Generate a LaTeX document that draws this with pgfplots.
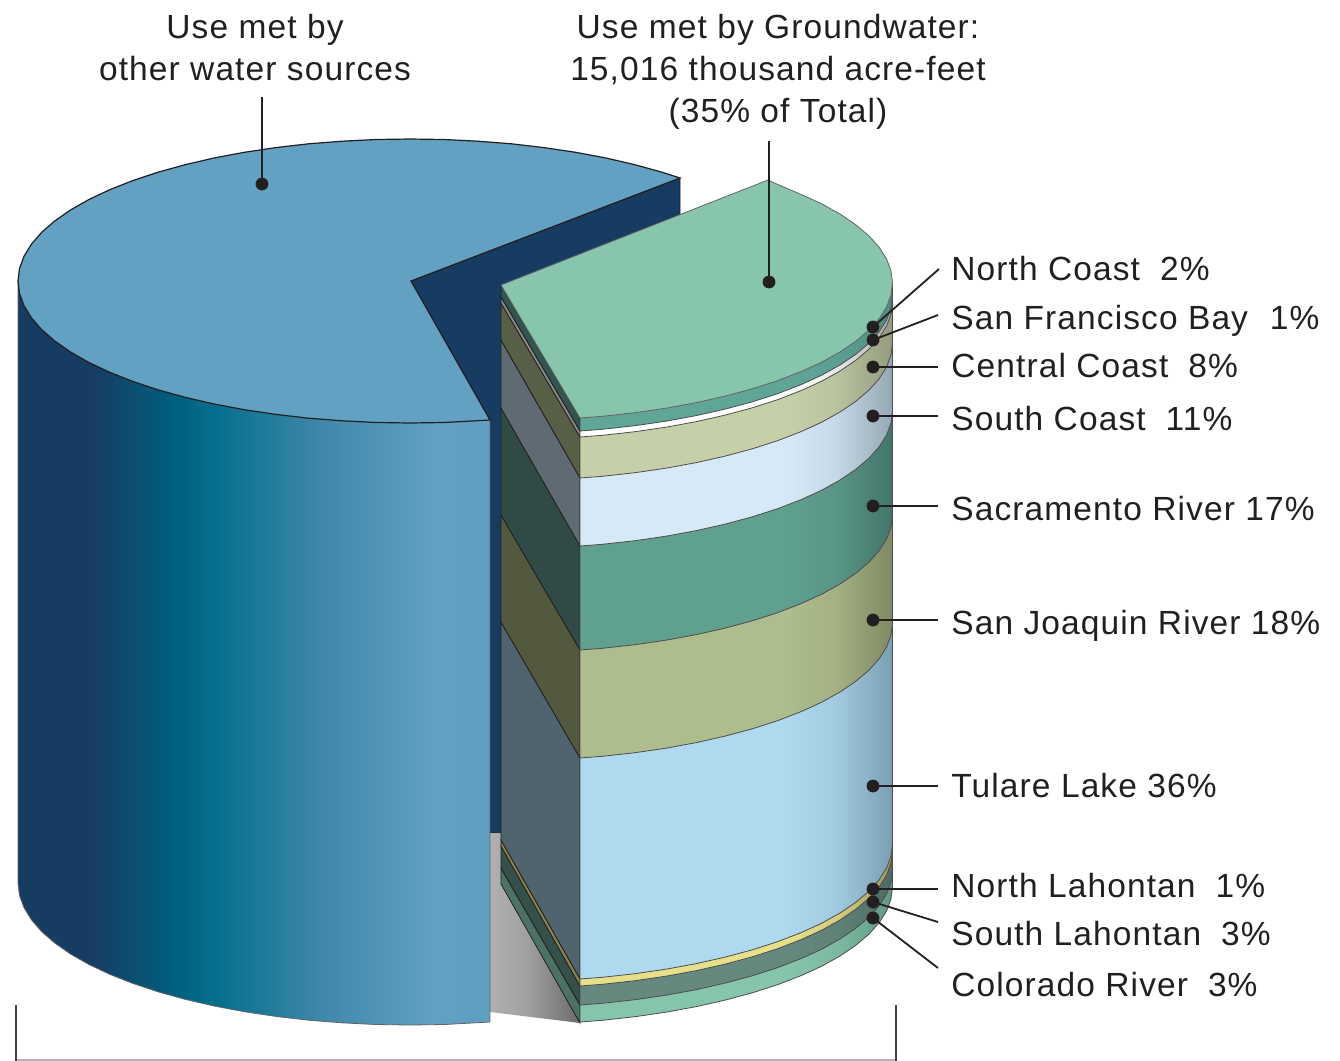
\documentclass[border=0pt]{standalone}
\usepackage{fontspec}
\setmainfont[LetterSpace=3.3]{Liberation Sans}
\usepackage{pgfplots}
\pgfplotsset{compat=1.18}

% left cylinder
\definecolor{bluetop}{HTML}{62A1C2}
\definecolor{bluewall}{HTML}{173C62}
\definecolor{ink}{HTML}{231F20}
\pgfdeclarehorizontalshading{sideblue}{100bp}{color(0bp)=(bluewall); color(32.6bp)=(bluewall); rgb(41.6bp)=(0,.376,.498); rgb(46.4bp)=(.027,.44,.56); rgb(57bp)=(.247,.533,.663); rgb(68.6bp)=(.376,.627,.765); rgb(100bp)=(.36,.612,.745)}
\pgfdeclarehorizontalshading{shadow}{100bp}{rgb(0bp)=(.69,.69,.69); rgb(25bp)=(.69,.69,.69); rgb(45bp)=(.63,.63,.63); rgb(75bp)=(.42,.42,.42); rgb(100bp)=(.42,.42,.42)}

% front layers: flat colour to about x=790, darker towards the rim
\newcommand{\layershade}[3]{%
  \definecolor{#1a}{HTML}{#2}\definecolor{#1b}{HTML}{#3}\colorlet{#1m}{#1a!75!#1b}%
  \pgfdeclarehorizontalshading{#1}{100bp}{color(0bp)=(#1a); color(58bp)=(#1a); color(66bp)=(#1m); color(75bp)=(#1b); color(100bp)=(#1b)}}
\layershade{lnc}{5FA598}{4F8D82}
\layershade{lsf}{FFFFFF}{A8A8A8}
\layershade{lcc}{C5D0A8}{949C7D}
\layershade{lsc}{D5E9F6}{94A9B4}
\layershade{lsa}{5FA08F}{44756A}
\layershade{lsj}{AEBD8D}{7F8A63}
\layershade{ltu}{AED9EF}{7A9FB3}
\layershade{lnl}{E6E08A}{9D9A5A}
\layershade{lsl}{65897F}{4D6B64}
\layershade{lco}{85C5AB}{5F9A83}

\newcommand{\lab}[3]{\node[anchor=base west,text=ink,font=\fontsize{16.75}{20}\selectfont,inner sep=0pt] at (axis cs:#1,#2) {#3};}
\newcommand{\capt}[3]{\node[anchor=base,text=ink,font=\fontsize{16.75}{20}\selectfont,inner sep=0pt] at (axis cs:#1,#2) {#3};}

\begin{document}
\begin{tikzpicture}
\begin{axis}[
    scale only axis,
    width=670pt, height=530.5pt,
    xmin=0, xmax=1340, ymin=0, ymax=1061,
    y dir=reverse,
    hide axis,
    every axis plot/.append style={line width=0.4pt},
]
% keep the page at the full axis size
\path (axis cs:0,0) rectangle (axis cs:1340,1061);

% wall and shadow behind the cut
\addplot[fill=bluewall, draw=ink] coordinates {(411,281) (680,178) (680,300) (501,833) (490,833) (490,420)} -- cycle;
\addplot[draw=none, shade, shading=shadow, shading angle=0] coordinates {(490,833) (501,833) (501,884) (580,1023) (490,1012)} -- cycle;

% left cylinder side
\addplot[draw=ink!70, shade, shading=sideblue, shading angle=0] coordinates {
    (18,281) (18,883) (19.5,895.4) (24,907.7) (31.4,919.8) (41.6,931.6) (54.7,943) (70.5,954) (88.9,964.5)
    (109.7,974.3) (132.8,983.4) (158,991.8) (185.1,999.3) (214,1006) (244.3,1011.7) (275.9,1016.4)
    (308.5,1020.2) (342,1022.8) (375.8,1024.5) (410,1025) (444.2,1024.5) (490,1022) (490,420)} -- cycle;
% left cylinder top
\addplot[fill=bluetop, draw=ink, line width=0.6pt] coordinates {
    (411,281) (680,178) (662,172.2) (634.9,164.7) (606,158) (575.7,152.3) (544.1,147.6) (511.5,143.8)
    (478,141.2) (444.2,139.5) (410,139) (375.8,139.5) (342,141.2) (308.5,143.8) (275.9,147.6) (244.3,152.3)
    (214,158) (185.1,164.7) (158,172.2) (132.8,180.6) (109.7,189.7) (88.9,199.5) (70.5,210) (54.7,221)
    (41.6,232.4) (31.4,244.2) (24,256.3) (19.5,268.6) (18,281) (19.5,293.4) (24,305.7) (31.4,317.8)
    (41.6,329.6) (54.7,341) (70.5,352) (88.9,362.5) (109.7,372.3) (132.8,381.4) (158,389.8) (185.1,397.3)
    (214,404) (244.3,409.7) (275.9,414.4) (308.5,418.2) (342,420.8) (375.8,422.5) (410,423) (444.2,422.5) (490,420)} -- cycle;

% cut faces of the right block, bottom to top
\addplot[fill={rgb,255:red,74;green,115;blue,102}, draw=ink] coordinates {(501,868) (580,1005) (580,1023) (501,884)} -- cycle;
\addplot[fill={rgb,255:red,52;green,80;blue,74}, draw=ink] coordinates {(501,846) (580,986) (580,1005) (501,868)} -- cycle;
\addplot[fill={rgb,255:red,138;green,133;blue,80}, draw=ink] coordinates {(501,840) (580,979) (580,986) (501,846)} -- cycle;
\addplot[fill={rgb,255:red,80;green,100;blue,111}, draw=ink] coordinates {(501,622) (580,758) (580,979) (501,840)} -- cycle;
\addplot[fill={rgb,255:red,83;green,89;blue,63}, draw=ink] coordinates {(501,515) (580,650) (580,758) (501,622)} -- cycle;
\addplot[fill={rgb,255:red,48;green,75;blue,69}, draw=ink] coordinates {(501,408) (580,546) (580,650) (501,515)} -- cycle;
\addplot[fill={rgb,255:red,95;green,106;blue,114}, draw=ink] coordinates {(501,340) (580,478) (580,546) (501,408)} -- cycle;
\addplot[fill={rgb,255:red,88;green,95;blue,71}, draw=ink] coordinates {(501,303) (580,437) (580,478) (501,340)} -- cycle;
\addplot[fill={rgb,255:red,140;green,140;blue,140}, draw=ink] coordinates {(501,297) (580,431) (580,437) (501,303)} -- cycle;
\addplot[fill={rgb,255:red,48;green,86;blue,79}, draw=ink] coordinates {(501,285) (580,418) (580,431) (501,297)} -- cycle;

% front of the right block, bottom to top
% Colorado River
\addplot[draw=ink!80, shade, shading=lco, shading angle=0] coordinates {(580,1022) (602.3,1020.3) (634.9,1016.7) (666.5,1012.1) (696.8,1006.5) (725.6,1000) (752.7,992.7) (777.8,984.6) (800.9,975.7) (821.7,966.2) (840,956) (855.8,945.3) (868.9,934.2) (879.2,922.7) (886.6,911) (891,899) (892.5,887) (892.5,870) (580,1005)} -- cycle;
% South Lahontan
\addplot[draw=ink!80, shade, shading=lsl, shading angle=0] coordinates {(580,1005) (602.3,1003.3) (634.9,999.7) (666.5,995.1) (696.8,989.5) (725.6,983) (752.7,975.7) (777.8,967.6) (800.9,958.7) (821.7,949.2) (840,939) (855.8,928.3) (868.9,917.2) (879.2,905.7) (886.6,894) (891,882) (892.5,870) (892.5,851) (580,986)} -- cycle;
% North Lahontan
\addplot[draw=ink!80, shade, shading=lnl, shading angle=0] coordinates {(580,986) (602.3,984.3) (634.9,980.7) (666.5,976.1) (696.8,970.5) (725.6,964) (752.7,956.7) (777.8,948.6) (800.9,939.7) (821.7,930.2) (840,920) (855.8,909.3) (868.9,898.2) (879.2,886.7) (886.6,875) (891,863) (892.5,851) (892.5,844) (580,979)} -- cycle;
% Tulare Lake
\addplot[draw=ink!80, shade, shading=ltu, shading angle=0] coordinates {(580,979) (602.3,977.3) (634.9,973.7) (666.5,969.1) (696.8,963.5) (725.6,957) (752.7,949.7) (777.8,941.6) (800.9,932.7) (821.7,923.2) (840,913) (855.8,902.3) (868.9,891.2) (879.2,879.7) (886.6,868) (891,856) (892.5,844) (892.5,623) (580,758)} -- cycle;
% San Joaquin River
\addplot[draw=ink!80, shade, shading=lsj, shading angle=0] coordinates {(580,758) (602.3,756.3) (634.9,752.7) (666.5,748.1) (696.8,742.5) (725.6,736) (752.7,728.7) (777.8,720.6) (800.9,711.7) (821.7,702.2) (840,692) (855.8,681.3) (868.9,670.2) (879.2,658.7) (886.6,647) (891,635) (892.5,623) (892.5,515) (580,650)} -- cycle;
% Sacramento River
\addplot[draw=ink!80, shade, shading=lsa, shading angle=0] coordinates {(580,650) (602.3,648.3) (634.9,644.7) (666.5,640.1) (696.8,634.5) (725.6,628) (752.7,620.7) (777.8,612.6) (800.9,603.7) (821.7,594.2) (840,584) (855.8,573.3) (868.9,562.2) (879.2,550.7) (886.6,539) (891,527) (892.5,515) (892.5,411) (580,546)} -- cycle;
% South Coast
\addplot[draw=ink!80, shade, shading=lsc, shading angle=0] coordinates {(580,546) (602.3,544.3) (634.9,540.7) (666.5,536.1) (696.8,530.5) (725.6,524) (752.7,516.7) (777.8,508.6) (800.9,499.7) (821.7,490.2) (840,480) (855.8,469.3) (868.9,458.2) (879.2,446.7) (886.6,435) (891,423) (892.5,411) (892.5,343) (580,478)} -- cycle;
% Central Coast
\addplot[draw=ink!80, shade, shading=lcc, shading angle=0] coordinates {(580,478) (602.3,476.3) (634.9,472.7) (666.5,468.1) (696.8,462.5) (725.6,456) (752.7,448.7) (777.8,440.6) (800.9,431.7) (821.7,422.2) (840,412) (855.8,401.3) (868.9,390.2) (879.2,378.7) (886.6,367) (891,355) (892.5,343) (892.5,302) (580,437)} -- cycle;
% San Francisco Bay
\addplot[draw=ink!80, shade, shading=lsf, shading angle=0] coordinates {(580,437) (602.3,435.3) (634.9,431.7) (666.5,427.1) (696.8,421.5) (725.6,415) (752.7,407.7) (777.8,399.6) (800.9,390.7) (821.7,381.2) (840,371) (855.8,360.3) (868.9,349.2) (879.2,337.7) (886.6,326) (891,314) (892.5,302) (892.5,296) (580,431)} -- cycle;
% North Coast
\addplot[draw=ink!80, shade, shading=lnc, shading angle=0] coordinates {(580,431) (602.3,429.3) (634.9,425.7) (666.5,421.1) (696.8,415.5) (725.6,409) (752.7,401.7) (777.8,393.6) (800.9,384.7) (821.7,375.2) (840,365) (855.8,354.3) (868.9,343.2) (879.2,331.7) (886.6,320) (891,308) (892.5,296) (892.5,283) (580,418)} -- cycle;
% top of the right block
\addplot[fill={rgb,255:red,135;green,197;blue,173}, draw=ink!70] coordinates {
    (501,285) (768,180) (777.8,184.5) (800.9,194.3) (821.7,203.8) (840,214) (855.8,224.7) (868.9,235.8)
    (879.2,247.3) (886.6,259) (891,271) (892.5,283) (891,295) (886.6,307) (879.2,318.7) (868.9,330.2)
    (855.8,341.3) (840,352) (821.7,362.2) (800.9,371.7) (777.8,380.6) (752.7,388.7) (725.6,396)
    (696.8,402.5) (666.5,408.1) (634.9,412.7) (602.3,416.3) (580,418)} -- cycle;

% bracket along the bottom
\addplot[draw=black!30, line width=0.8pt] coordinates {(16,1060) (896,1060)};
\addplot[draw=ink!85, line width=0.8pt] coordinates {(16,1005) (16,1061)};
\addplot[draw=ink!85, line width=0.8pt] coordinates {(896,1005) (896,1061)};

% leader lines
\addplot[draw=ink, line width=0.9pt] coordinates {(262,184) (262,97)};
\addplot[draw=ink, line width=0.9pt] coordinates {(769,282) (769,141)};
\addplot[draw=ink, line width=0.9pt] coordinates {(873,327) (939,269)};
\addplot[draw=ink, line width=0.9pt] coordinates {(873,340) (938,315)};
\addplot[draw=ink, line width=0.9pt] coordinates {(873,367) (938,367)};
\addplot[draw=ink, line width=0.9pt] coordinates {(873,416) (938,416)};
\addplot[draw=ink, line width=0.9pt] coordinates {(873,506) (938,506)};
\addplot[draw=ink, line width=0.9pt] coordinates {(873,620) (938,620)};
\addplot[draw=ink, line width=0.9pt] coordinates {(873,786) (938,786)};
\addplot[draw=ink, line width=0.9pt] coordinates {(873,889) (938,889)};
\addplot[draw=ink, line width=0.9pt] coordinates {(873,902) (938,922)};
\addplot[draw=ink, line width=0.9pt] coordinates {(873,918) (938,968)};
\addplot[only marks, mark=*, mark size=3pt, mark options={fill=ink, draw=ink}] coordinates {
    (262,184) (769,282) (873,327) (873,340) (873,367) (873,416) (873,506) (873,620) (873,786) (873,889) (873,902) (873,918)};

% text
\capt{255}{38}{Use met by}
\capt{255}{80}{other water sources}
\capt{778}{38}{Use met by Groundwater:}
\capt{778}{80}{15,016 thousand acre-feet}
\capt{778}{122}{(35\% of Total)}
\lab{951}{280}{North Coast\hspace{10pt}2\%}
\lab{951}{329}{San Francisco Bay\hspace{11pt}1\%}
\lab{951}{377}{Central Coast\hspace{10pt}8\%}
\lab{951}{430}{South Coast\hspace{10pt}11\%}
\lab{951}{520}{Sacramento River 17\%}
\lab{951}{634}{San Joaquin River 18\%}
\lab{951}{797}{Tulare Lake 36\%}
\lab{951}{897}{North Lahontan\hspace{10pt}1\%}
\lab{951}{945}{South Lahontan\hspace{10pt}3\%}
\lab{951}{996}{Colorado River\hspace{10pt}3\%}
\end{axis}
\end{tikzpicture}
\end{document}
